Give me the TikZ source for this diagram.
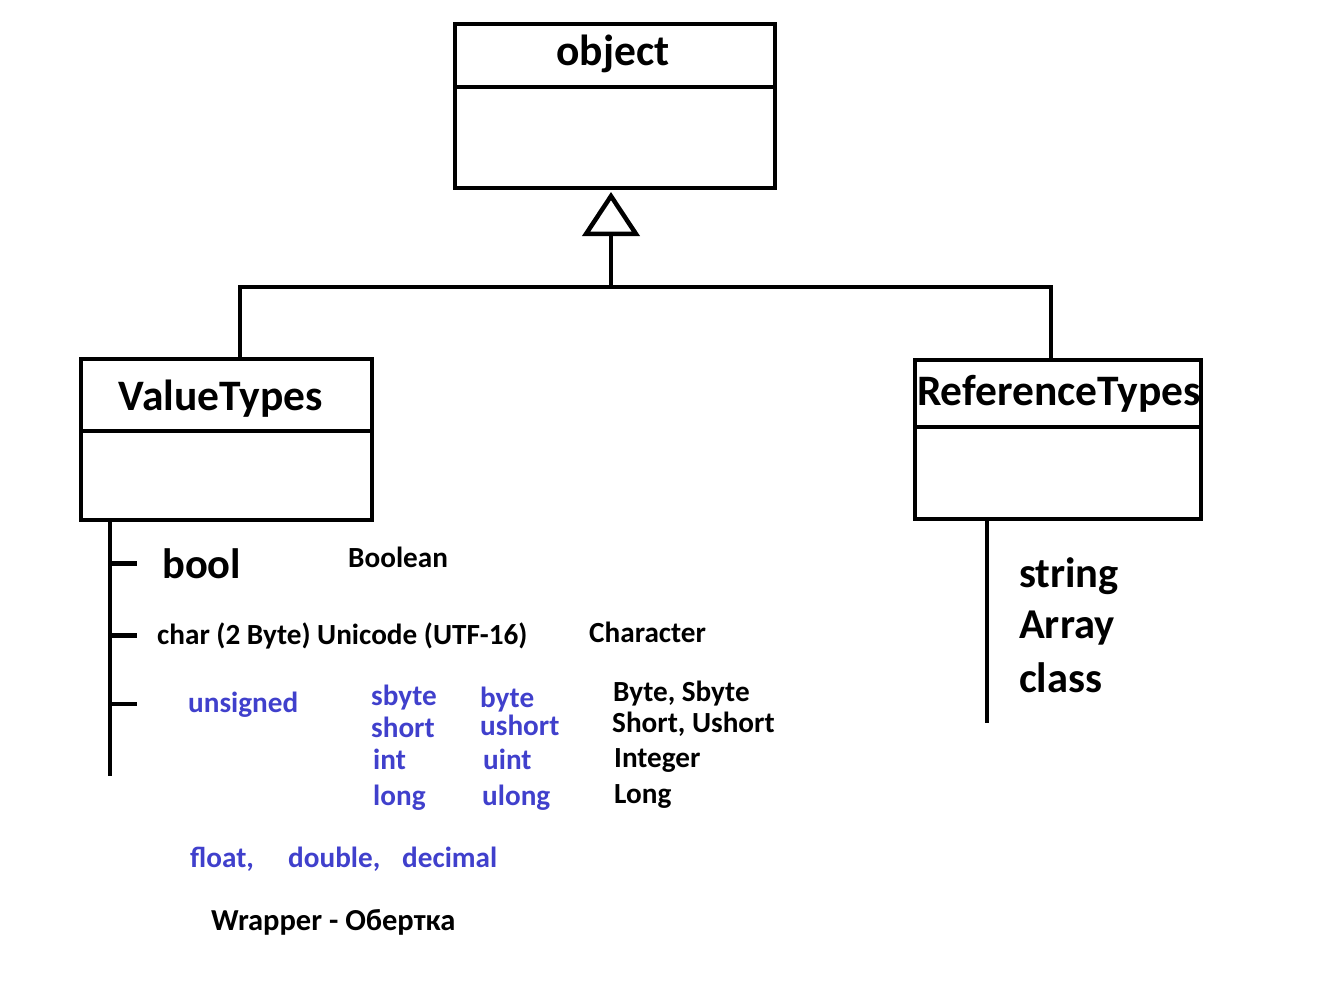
\documentclass[tikz,border=0pt]{standalone}
\usepackage{fontspec}
\setmainfont{Carlito}
\usepackage{xcolor}
\usepackage{tikz}
\usetikzlibrary{arrows.meta,positioning}
\definecolor{typeblue}{RGB}{64,64,204}

\begin{document}
\begin{tikzpicture}[x=1pt, y=-1pt,
    classbox/.style={rectangle, draw=black, line width=4.5pt, inner sep=0pt, outer sep=0pt},
    classtitle/.style={anchor=base, inner sep=0pt, font=\fontsize{43.5}{50}\selectfont\bfseries},
    member/.style={anchor=base west, inner sep=0pt, font=\fontsize{42.5}{48}\selectfont\bfseries},
    note/.style={anchor=base west, inner sep=0pt, font=\fontsize{29.2}{34}\selectfont\bfseries},
    kw/.style={note, text=typeblue},
    wire/.style={line width=4.5pt},
    inherit/.style={line width=4.5pt, line join=round, -{Triangle[open, length=44pt, width=57pt]}}
]
\useasboundingbox (0,0) rectangle (1340,998);

% class boxes
\node[classbox, minimum width=320pt, minimum height=164pt] (object) at (615,106) {};
\node[classbox, minimum width=291pt, minimum height=161pt] (vt) at (226.5,439.5) {};
\node[classbox, minimum width=286pt, minimum height=159pt] (rt) at (1058,439.5) {};
\draw[wire] ([yshift=-63pt]object.north west) -- ([yshift=-63pt]object.north east);
\draw[wire] ([yshift=-72pt]vt.north west) -- ([yshift=-72pt]vt.north east);
\draw[wire] ([yshift=-67pt]rt.north west) -- ([yshift=-67pt]rt.north east);
\node[classtitle] (objname) at (613,66) {object};
\node[classtitle] (vtname) at (221,410) {ValueTypes};
\node[classtitle] (rtname) at (1059,405) {ReferenceTypes};

% inheritance
\coordinate (hub) at (611,287);
\draw[wire] ([xshift=13.5pt]vt.north) |- (hub) -| ([xshift=-7pt]rt.north);
\draw[inherit] (hub) -- ([yshift=-4pt]object.south -| hub);

% value types
\coordinate (vtrunk) at ([xshift=29pt]vt.south west);
\draw[wire] (vtrunk) -- ++(0,256);
\node[member] (bool) at (162,578) {bool};
\node[note] (boolean) at (348,567) {Boolean};
\node[note] (char) at (157,644) {char (2 Byte) Unicode (UTF-16)};
\node[note] (character) at (589,642) {Character};
\node[kw] (unsigned) at (188,712) {unsigned};
\draw[wire] (vtrunk |- bool.west) -- ++(27,0);
\draw[wire] (vtrunk |- char.west) -- ++(27,0);
\draw[wire] (vtrunk |- unsigned.west) -- ++(27,0);

\node[kw] (sbyte) at (371,705) {sbyte};
\node[kw] (short) at (371,737) {short};
\node[kw] (int) at (373,769) {int};
\node[kw] (long) at (373,805) {long};
\node[kw] (byte) at (480,707) {byte};
\node[kw] (ushort) at (480,735) {ushort};
\node[kw] (uint) at (483,769) {uint};
\node[kw] (ulong) at (482,805) {ulong};
\node[note] (wbyte) at (613,701) {Byte, Sbyte};
\node[note] (wshort) at (612,732) {Short, Ushort};
\node[note] (wint) at (614,767) {Integer};
\node[note] (wlong) at (614,803) {Long};

\node[kw] (float) at (190,867) {float,};
\node[kw] (double) at (288,867) {double,};
\node[kw] (decimal) at (402,867) {decimal};
\node[note, font=\fontsize{30.5}{36}\selectfont\bfseries] (wrapper) at (211,930) {Wrapper - Обертка};

% reference types
\coordinate (rtrunk) at ([xshift=-71pt]rt.south);
\draw[wire] (rtrunk) -- ++(0,204);
\node[member] (string) at (1019,587) {string};
\node[member] (array) at (1019,638) {Array};
\node[member] (class) at (1019,692) {class};
\end{tikzpicture}
\end{document}
